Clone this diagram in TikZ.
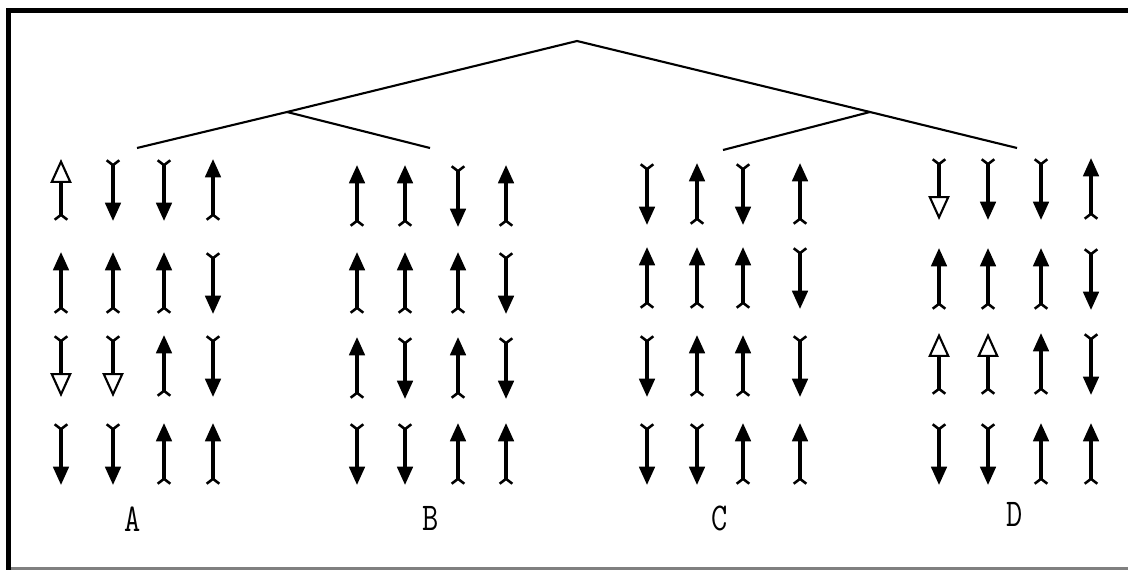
\documentclass[tikz,border=0pt]{standalone}
\usepackage{fontspec}
\newfontfamily\letterfont[FakeStretch=0.8]{Latin Modern Mono}
\usetikzlibrary{arrows.meta}

\tikzset{
  spin/.style={line width=2.3pt},
  spinup/.style={spin, {Triangle[length=13pt, width=11pt]}-{Straight Barb[reversed, length=3.5pt, width=9pt, line width=1.8pt]}},
  spindown/.style={spin, {Straight Barb[reversed, length=3.5pt, width=9pt, line width=1.8pt]}-{Triangle[length=13pt, width=11pt]}},
  holeup/.style={spin, {Triangle[open, length=17pt, width=15pt, line width=1.5pt]}-{Straight Barb[reversed, length=3.5pt, width=9pt, line width=1.8pt]}},
  holedown/.style={spin, {Straight Barb[reversed, length=3.5pt, width=9pt, line width=1.8pt]}-{Triangle[open, length=17pt, width=15pt, line width=1.5pt]}},
  branch/.style={line width=1.5pt},
  letter/.style={font=\letterfont\fontsize{28}{28}\selectfont, inner sep=0pt}
}

\begin{document}
\begin{tikzpicture}[x=0.025cm, y=-0.025cm]
\useasboundingbox (0,0) rectangle (1128,570);

% frame
\draw[line width=4pt, miter limit=10] (8.5,570) -- (8.5,10.5) -- (1128,10.5);
\draw[gray, line width=1.5pt] (11,568.5) -- (1128,568.5);

% tree
\coordinate (root) at (577,41);
\coordinate (lbr) at (287,112);
\coordinate (rbr) at (870,112);
\coordinate (la) at (137,148);
\coordinate (lb) at (430,148);
\coordinate (rc) at (723,150);
\coordinate (rd) at (1017,148);
\draw[branch] (la) -- (lbr) -- (root) -- (rbr) -- (rd);
\draw[branch] (lbr) -- (lb);
\draw[branch] (rbr) -- (rc);

% group A
\foreach \x/\s in {61/holeup,113/spindown,164/spindown,213/spinup} \draw[\s] (\x,159) -- ++(0,62);
\foreach \x/\s in {61/spinup,113/spinup,164/spinup,213/spindown} \draw[\s] (\x,252) -- ++(0,62);
\foreach \x/\s in {61/holedown,113/holedown,164/spinup,213/spindown} \draw[\s] (\x,335) -- ++(0,62);
\foreach \x/\s in {61/spindown,113/spindown,164/spinup,213/spinup} \draw[\s] (\x,423) -- ++(0,62);

% group B
\foreach \x/\s in {357/spinup,405/spinup,458/spindown,506/spinup} \draw[\s] (\x,165) -- ++(0,62);
\foreach \x/\s in {357/spinup,405/spinup,458/spinup,506/spindown} \draw[\s] (\x,252) -- ++(0,62);
\foreach \x/\s in {357/spinup,405/spindown,458/spinup,506/spindown} \draw[\s] (\x,337) -- ++(0,62);
\foreach \x/\s in {357/spindown,405/spindown,458/spinup,506/spinup} \draw[\s] (\x,423) -- ++(0,62);

% group C
\foreach \x/\s in {647/spindown,697/spinup,743/spindown,800/spinup} \draw[\s] (\x,163) -- ++(0,62);
\foreach \x/\s in {647/spinup,697/spinup,743/spinup,800/spindown} \draw[\s] (\x,247) -- ++(0,62);
\foreach \x/\s in {647/spindown,697/spinup,743/spinup,800/spindown} \draw[\s] (\x,335) -- ++(0,62);
\foreach \x/\s in {647/spindown,697/spindown,743/spinup,800/spinup} \draw[\s] (\x,423) -- ++(0,62);

% group D
\foreach \x/\s in {939/holedown,988/spindown,1041/spindown,1091/spinup} \draw[\s] (\x,158) -- ++(0,62);
\foreach \x/\s in {939/spinup,988/spinup,1041/spinup,1091/spindown} \draw[\s] (\x,248) -- ++(0,62);
\foreach \x/\s in {939/holeup,988/holeup,1041/spinup,1091/spindown} \draw[\s] (\x,333) -- ++(0,62);
\foreach \x/\s in {939/spindown,988/spindown,1041/spinup,1091/spinup} \draw[\s] (\x,423) -- ++(0,62);

% group letters
\node[letter] (tagA) at (133,519) {A};
\node[letter] (tagB) at (431,518) {B};
\node[letter] (tagC) at (720,518) {C};
\node[letter] (tagD) at (1015,514) {D};
\end{tikzpicture}
\end{document}
